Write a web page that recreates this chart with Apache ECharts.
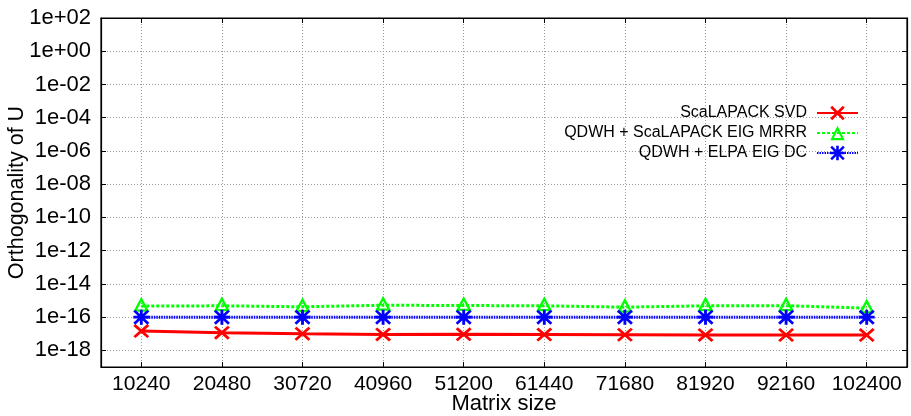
<!DOCTYPE html>
<html>
<head>
<meta charset="utf-8">
<script src="https://cdn.jsdelivr.net/npm/echarts@6/dist/echarts.min.js"></script>
<style>
  html, body { margin: 0; padding: 0; background: #fff; }
  #chart { width: 911px; height: 416px; }
</style>
</head>
<body>
<div id="chart"></div>
<script>
// Orthogonality ||I - U^T U|| of the computed left singular vectors
const matrixSizes = ['10240', '20480', '30720', '40960', '51200', '61440', '71680', '81920', '92160', '102400'];

const scalapackSvd = [1.45e-17, 1.16e-17, 1.0e-17, 9.1e-18, 9.2e-18, 8.9e-18, 8.7e-18, 8.5e-18, 8.4e-18, 8.3e-18];
const qdwhMrrr     = [4.6e-16, 4.8e-16, 4.2e-16, 5.2e-16, 5.0e-16, 4.8e-16, 4.0e-16, 4.8e-16, 4.9e-16, 3.5e-16];
const qdwhElpaDc   = [1.0e-16, 1.0e-16, 1.0e-16, 1.0e-16, 1.0e-16, 1.0e-16, 1.0e-16, 1.0e-16, 1.0e-16, 1.0e-16];

const seriesNames = ['ScaLAPACK SVD', 'QDWH + ScaLAPACK EIG MRRR', 'QDWH + ELPA EIG DC'];

// y axis works in log10 units; decades shown every 2
const logMin = -19;
const logMax = 2;

const FONT = 'Liberation Sans, Arial, Helvetica, sans-serif';

// Symbol outlines (filled paths, 100x100 box)
const crossPath = 'path://M0,13 L13,0 L100,87 L87,100 Z M100,13 L13,100 L0,87 L87,0 Z';
const trianglePath = 'path://M50,0 L100,100 L0,100 Z M50,33.5 L24.3,85 L75.7,85 Z';
const asteriskPath = 'path://M41,0 L59,0 L59,100 L41,100 Z M0,41 L100,41 L100,59 L0,59 Z ' +
                     'M0,12 L12,0 L100,88 L88,100 Z M100,12 L12,100 L0,88 L88,0 Z';

function toLog(arr) { return arr.map(v => Math.log10(v)); }

function expLabel(v) {
  const e = Math.round(v);
  if (Math.abs(v - e) > 1e-9 || e % 2 !== 0) return '';
  const sign = e < 0 ? '-' : '+';
  const a = Math.abs(e);
  return '1e' + sign + (a < 10 ? '0' + a : String(a));
}

const gridLine = { show: true, lineStyle: { color: '#9a9a9a', width: 1, type: [1, 2] } };
const frameLine = { show: true, onZero: false, lineStyle: { color: '#000', width: 1.2 } };
const innerTick = { show: true, inside: true, length: 5, lineStyle: { color: '#000' } };

const chart = echarts.init(document.getElementById('chart'), null, { renderer: 'canvas' });

chart.setOption({
  animation: false,
  backgroundColor: '#ffffff',
  textStyle: { fontFamily: FONT },
  grid: {
    left: 101, right: 4, top: 18, bottom: 49,
    outerBoundsMode: 'none',
    containLabel: false,
    show: true, borderColor: '#000', borderWidth: 1.2, backgroundColor: 'transparent'
  },
  legend: {
    orient: 'vertical',
    align: 'right',
    right: 52,
    top: 105,
    padding: 0,
    itemWidth: 41,
    itemHeight: 18,
    itemGap: 4,
    textStyle: { fontFamily: FONT, fontSize: 16, color: '#000', padding: [0, 5, 0, 0] },
    data: seriesNames
  },
  xAxis: [{
    type: 'category',
    data: matrixSizes,
    boundaryGap: true,
    name: 'Matrix size',
    nameLocation: 'middle',
    nameGap: 26,
    nameMoveOverlap: false,
    nameTextStyle: { fontFamily: FONT, fontSize: 22, color: '#000' },
    axisLine: frameLine,
    axisTick: Object.assign({ alignWithLabel: true }, innerTick),
    axisLabel: { fontFamily: FONT, fontSize: 21, color: '#000', margin: 7, interval: 0 },
    splitLine: Object.assign({ alignWithLabel: true }, gridLine)
  }, {
    type: 'category',
    data: matrixSizes,
    position: 'top',
    boundaryGap: true,
    axisLine: frameLine,
    axisTick: Object.assign({ alignWithLabel: true }, innerTick),
    axisLabel: { show: false },
    splitLine: { show: false }
  }],
  yAxis: [{
    type: 'value',
    min: logMin,
    max: logMax,
    splitNumber: 10,
    name: 'Orthogonality of U',
    nameLocation: 'middle',
    nameGap: 73,
    nameMoveOverlap: false,
    nameTextStyle: { fontFamily: FONT, fontSize: 21.5, color: '#000' },
    axisLine: frameLine,
    axisTick: innerTick,
    axisLabel: { fontFamily: FONT, fontSize: 22, color: '#000', margin: 10, formatter: expLabel, showMinLabel: false },
    splitLine: gridLine
  }, {
    type: 'value',
    min: logMin,
    max: logMax,
    splitNumber: 10,
    position: 'right',
    axisLine: frameLine,
    axisTick: innerTick,
    axisLabel: { show: false },
    splitLine: { show: false }
  }],
  series: [{
    name: seriesNames[0],
    type: 'line',
    data: toLog(scalapackSvd),
    symbol: crossPath,
    symbolSize: [16, 14],
    showAllSymbol: true,
    lineStyle: { color: '#ff0000', width: 3, type: 'solid' },
    itemStyle: { color: '#ff0000' },
    z: 3
  }, {
    name: seriesNames[1],
    type: 'line',
    data: toLog(qdwhMrrr),
    symbol: trianglePath,
    symbolSize: [16, 15],
    symbolOffset: [0, -2],
    showAllSymbol: true,
    lineStyle: { color: '#00ff00', width: 3, type: [3, 2] },
    itemStyle: { color: '#00ff00' },
    z: 4
  }, {
    name: seriesNames[2],
    type: 'line',
    data: toLog(qdwhElpaDc),
    symbol: asteriskPath,
    symbolSize: [16, 15],
    showAllSymbol: true,
    lineStyle: { color: '#0000ff', width: 3, type: [1.5, 1] },
    itemStyle: { color: '#0000ff' },
    z: 5
  }]
});
</script>
</body>
</html>
